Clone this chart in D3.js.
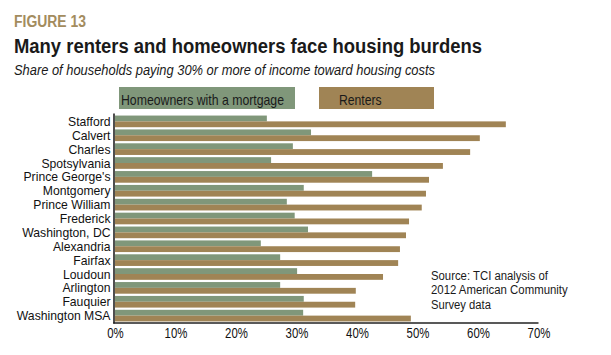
<!DOCTYPE html>
<html><head><meta charset="utf-8">
<script src="https://cdn.jsdelivr.net/npm/d3@7"></script>
<style>
html,body{margin:0;padding:0;background:#fff;}
svg{display:block;font-family:"Liberation Sans",Arial,sans-serif;}
</style></head>
<body>
<svg id="chart" width="611" height="355"></svg>
<script>
const categories = ["Stafford","Calvert","Charles","Spotsylvania","Prince George's","Montgomery","Prince William","Frederick","Washington, DC","Alexandria","Fairfax","Loudoun","Arlington","Fauquier","Washington MSA"];
const homeowners = [25.1,32.4,29.4,25.8,42.5,31.2,28.4,29.7,31.9,24.1,27.3,30.1,27.3,31.2,31.1];
const renters = [64.6,60.3,58.7,54.2,51.9,51.4,50.7,48.6,48.1,47.1,46.8,44.3,39.8,39.7,48.9];
const xTicks = [0,10,20,30,40,50,60,70];
const seriesNames = ["Homeowners with a mortgage","Renters"];
const sourceLines = ["Source: TCI analysis of","2012 American Community","Survey data"];

const GREEN = "#80977a", TAN = "#a08455";
const svg = d3.select("#chart");

// Titles
svg.append("text").attr("x",14).attr("y",27.3).attr("font-size",16).attr("font-weight","bold")
  .attr("fill","#a38c5e").attr("textLength",72).attr("lengthAdjust","spacingAndGlyphs").text("FIGURE 13");
svg.append("text").attr("x",14).attr("y",53.3).attr("font-size",20).attr("font-weight","bold")
  .attr("fill","#1a1a1a").attr("textLength",468).attr("lengthAdjust","spacingAndGlyphs")
  .text("Many renters and homeowners face housing burdens");
svg.append("text").attr("x",14).attr("y",74.5).attr("font-size",14.5).attr("font-style","italic")
  .attr("fill","#1a1a1a").attr("textLength",421).attr("lengthAdjust","spacingAndGlyphs")
  .text("Share of households paying 30% or more of income toward housing costs");

// Legend
const legend = [
  {name:seriesNames[0], color:GREEN, x:119, w:176, tx:121, tw:163},
  {name:seriesNames[1], color:TAN, x:319, w:115, tx:339, tw:42.7}
];
legend.forEach(l=>{
  svg.append("rect").attr("x",l.x).attr("y",87).attr("width",l.w).attr("height",22).attr("fill",l.color);
  svg.append("text").attr("x",l.tx).attr("y",104.5).attr("font-size",14.5).attr("fill","#1a1a1a")
    .attr("textLength",l.tw).attr("lengthAdjust","spacingAndGlyphs").text(l.name);
});

// Scales
const x = d3.scaleLinear().domain([0,70]).range([115,538.5]);
const y = d3.scaleBand().domain(categories).range([115,322]).paddingInner(0.16).paddingOuter(0.04);
const sub = d3.scaleBand().domain(["h","r"]).range([0,y.bandwidth()]);

// Bars
const g = svg.append("g");
g.selectAll("rect.h").data(categories).join("rect").attr("class","h")
  .attr("x",x(0)).attr("y",(d)=>y(d)+sub("h"))
  .attr("width",(d,i)=>x(homeowners[i])-x(0)).attr("height",sub.bandwidth()).attr("fill",GREEN);
g.selectAll("rect.r").data(categories).join("rect").attr("class","r")
  .attr("x",x(0)).attr("y",(d)=>y(d)+sub("r"))
  .attr("width",(d,i)=>x(renters[i])-x(0)).attr("height",sub.bandwidth()).attr("fill",TAN);

// Axes
const yAxis = svg.append("g").attr("transform","translate(114,0)")
  .call(d3.axisLeft(y).tickSize(0).tickSizeOuter(0));
yAxis.select(".domain").remove();
yAxis.selectAll("text").attr("x",0).attr("dy",null).attr("y",4.6)
  .attr("font-size",12.2).attr("fill","#111").attr("font-family","Liberation Sans, Arial, sans-serif")
  .attr("transform","translate(-3.5,0)");

const xAxis = svg.append("g").attr("transform","translate(0,323)")
  .call(d3.axisBottom(x).tickValues(xTicks).tickFormat(d=>d+"%").tickSize(0).tickSizeOuter(0));
xAxis.select(".domain").remove();
xAxis.selectAll("text").attr("y",0).attr("dy",null)
  .attr("font-size",15).attr("fill","#111").attr("font-family","Liberation Sans, Arial, sans-serif")
  .attr("transform","translate(0,15.3) scale(0.76,1)");

// Axis lines
svg.append("line").attr("x1",114).attr("x2",114).attr("y1",113.5).attr("y2",323.5)
  .attr("stroke","#222").attr("stroke-width",1.6);
svg.append("line").attr("x1",113.2).attr("x2",538.5).attr("y1",323).attr("y2",323)
  .attr("stroke","#222").attr("stroke-width",1.6);

// Source note
const srcW = [117,136.7,60];
sourceLines.forEach((s,i)=>{
  svg.append("text").attr("x",431).attr("y",279.5+i*14.5).attr("font-size",12.5).attr("fill","#1a1a1a")
    .attr("textLength",srcW[i]).attr("lengthAdjust","spacingAndGlyphs").text(s);
});
</script>
</body></html>
